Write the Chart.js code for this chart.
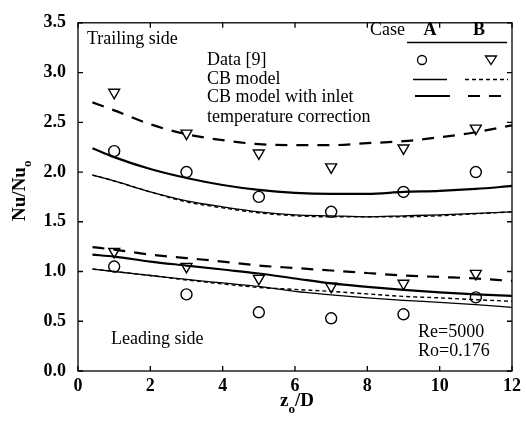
<!DOCTYPE html>
<html>
<head>
<meta charset="utf-8">
<script src="https://cdn.jsdelivr.net/npm/chart.js@4.4.0/dist/chart.umd.min.js"></script>
<style>
  html, body { margin: 0; padding: 0; background: #fff; }
  #wrap { width: 526px; height: 424px; }
</style>
</head>
<body>
<div id="wrap"><canvas id="chart" width="526" height="424"></canvas></div>
<script>
// Données mesurées [9] (symboles)
const dataX = [1, 3, 5, 7, 9, 11];
const trailA = [2.21, 2.00, 1.75, 1.60, 1.80, 2.00];
const trailB = [2.80, 2.39, 2.19, 2.05, 2.24, 2.44];
const leadA = [1.05, 0.77, 0.59, 0.53, 0.57, 0.74];
const leadB = [1.20, 1.05, 0.93, 0.85, 0.88, 0.98];

// Courbes du modèle CB
const curveX = [0.4, 1, 2, 3, 4, 5, 6, 7, 8, 9, 10, 11, 12];
const trailCorrB = [2.70, 2.62, 2.48, 2.38, 2.32, 2.28, 2.27, 2.27, 2.29, 2.31, 2.35, 2.40, 2.47];
const trailCorrA = [2.24, 2.15, 2.03, 1.94, 1.87, 1.82, 1.79, 1.78, 1.78, 1.80, 1.81, 1.83, 1.86];
const trailCbA = [1.97, 1.91, 1.80, 1.71, 1.65, 1.60, 1.57, 1.56, 1.55, 1.56, 1.57, 1.585, 1.60];
const trailCbB = [1.97, 1.91, 1.80, 1.70, 1.64, 1.59, 1.56, 1.55, 1.55, 1.55, 1.56, 1.58, 1.60];
const leadCorrB = [1.245, 1.22, 1.17, 1.135, 1.10, 1.06, 1.035, 1.01, 0.985, 0.96, 0.945, 0.93, 0.905];
const leadCorrA = [1.17, 1.15, 1.10, 1.06, 1.02, 0.98, 0.93, 0.88, 0.845, 0.815, 0.79, 0.77, 0.755];
const leadCbA = [1.025, 1.00, 0.96, 0.92, 0.885, 0.85, 0.80, 0.765, 0.735, 0.71, 0.69, 0.667, 0.64];
const leadCbB = [1.025, 1.00, 0.96, 0.915, 0.875, 0.84, 0.82, 0.80, 0.775, 0.75, 0.735, 0.717, 0.70];

// Axes
const xTicks = [0, 2, 4, 6, 8, 10, 12];
const yTicks = [0, 0.5, 1.0, 1.5, 2.0, 2.5, 3.0, 3.5];

const SERIF = '"Liberation Serif", "DejaVu Serif", serif';
const pts = (xs, ys) => xs.map((x, i) => ({ x, y: ys[i] }));

function curve(ys, width, dash) {
    return {
        data: pts(curveX, ys),
        showLine: true,
        borderColor: '#000',
        borderWidth: width,
        borderDash: dash,
        pointRadius: 0,
        cubicInterpolationMode: 'monotone',
        fill: false
    };
}

function markers(ys, style) {
    return {
        data: pts(dataX, ys),
        showLine: false,
        pointStyle: style,
        pointRotation: style === 'triangle' ? 180 : 0,
        pointRadius: style === 'triangle' ? 6.3 : 5.5,
        pointBorderColor: '#000',
        pointBackgroundColor: 'rgba(0,0,0,0)',
        pointBorderWidth: 1.4
    };
}

// Cadre, graduations intérieures, légende et annotations
const decorPlugin = {
    id: 'decor',
    afterDraw(chart) {
        const { ctx, chartArea: a, scales: { x, y } } = chart;
        ctx.save();
        ctx.strokeStyle = '#000';
        ctx.lineWidth = 1.3;
        ctx.strokeRect(a.left, a.top, a.right - a.left, a.bottom - a.top);
        ctx.beginPath();
        xTicks.forEach(v => {
            const px = x.getPixelForValue(v);
            ctx.moveTo(px, a.bottom); ctx.lineTo(px, a.bottom - 5);
            ctx.moveTo(px, a.top); ctx.lineTo(px, a.top + 5);
        });
        yTicks.forEach(v => {
            const py = y.getPixelForValue(v);
            ctx.moveTo(a.left, py); ctx.lineTo(a.left + 5, py);
            ctx.moveTo(a.right, py); ctx.lineTo(a.right - 5, py);
        });
        ctx.stroke();

        ctx.fillStyle = '#000';
        ctx.textBaseline = 'alphabetic';
        ctx.font = '18px ' + SERIF;
        ctx.textAlign = 'left';
        ctx.fillText('Trailing side', 87, 44);
        ctx.fillText('Data [9]', 207, 65);
        ctx.fillText('CB model', 207, 84);
        ctx.fillText('CB model with inlet', 207, 102);
        ctx.fillText('temperature correction', 207, 122);
        ctx.fillText('Leading side', 111, 344);
        ctx.fillText('Re=5000', 418, 337);
        ctx.fillText('Ro=0.176', 418, 356);
        ctx.textAlign = 'right';
        ctx.fillText('Case', 405, 35);
        ctx.font = 'bold 18px ' + SERIF;
        ctx.textAlign = 'center';
        ctx.fillText('A', 430, 35);
        ctx.fillText('B', 479, 35);

        // légende : traits et symboles
        ctx.lineWidth = 1.3;
        ctx.beginPath(); ctx.moveTo(407, 42.5); ctx.lineTo(507, 42.5); ctx.stroke();
        ctx.beginPath(); ctx.arc(422, 60, 4.5, 0, Math.PI * 2); ctx.stroke();
        ctx.beginPath();
        ctx.moveTo(485.5, 56); ctx.lineTo(496.5, 56); ctx.lineTo(491, 64.5); ctx.closePath();
        ctx.stroke();
        ctx.beginPath(); ctx.moveTo(413, 79.5); ctx.lineTo(447, 79.5); ctx.stroke();
        ctx.setLineDash([4, 3]);
        ctx.beginPath(); ctx.moveTo(465, 79.5); ctx.lineTo(508, 79.5); ctx.stroke();
        ctx.setLineDash([]);
        ctx.lineWidth = 2.2;
        ctx.beginPath(); ctx.moveTo(415, 96); ctx.lineTo(450, 96); ctx.stroke();
        ctx.setLineDash([12, 9]);
        ctx.beginPath(); ctx.moveTo(468, 96); ctx.lineTo(502, 96); ctx.stroke();
        ctx.setLineDash([]);

        // titres des axes avec indice
        ctx.font = 'bold 19px ' + SERIF;
        ctx.textAlign = 'left';
        const xt = 'z', xr = '/D';
        const w1 = ctx.measureText(xt).width;
        ctx.font = 'bold 13px ' + SERIF;
        const ws = ctx.measureText('o').width;
        ctx.font = 'bold 19px ' + SERIF;
        const w2 = ctx.measureText(xr).width;
        let sx = (a.left + a.right) / 2 - (w1 + ws + w2) / 2 + 2;
        ctx.fillText(xt, sx, 406);
        ctx.font = 'bold 13px ' + SERIF;
        ctx.fillText('o', sx + w1, 413);
        ctx.font = 'bold 19px ' + SERIF;
        ctx.fillText(xr, sx + w1 + ws, 406);

        ctx.translate(25, 190);
        ctx.rotate(-Math.PI / 2);
        const t1 = 'Nu/Nu';
        const tw = ctx.measureText(t1).width;
        ctx.fillText(t1, -tw / 2 - 4, 0);
        ctx.font = 'bold 13px ' + SERIF;
        ctx.fillText('o', tw / 2 - 4, 6);
        ctx.restore();
    }
};

new Chart(document.getElementById('chart'), {
    type: 'scatter',
    data: {
        datasets: [
            curve(trailCorrB, 2.2, [12, 9]),
            curve(trailCorrA, 2.2, []),
            curve(trailCbA, 1.3, []),
            curve(trailCbB, 1.4, [4, 3]),
            curve(leadCorrB, 2.2, [12, 9]),
            curve(leadCorrA, 2.2, []),
            curve(leadCbA, 1.3, []),
            curve(leadCbB, 1.4, [4, 3]),
            markers(trailA, 'circle'),
            markers(leadA, 'circle'),
            markers(trailB, 'triangle'),
            markers(leadB, 'triangle')
        ]
    },
    options: {
        responsive: false,
        animation: false,
        layout: { padding: { top: 17, right: 13, left: 0, bottom: 0 } },
        plugins: { legend: { display: false }, tooltip: { enabled: false } },
        scales: {
            x: {
                type: 'linear', min: 0, max: 12,
                afterFit: s => { s.height = 53; },
                afterBuildTicks: s => { s.ticks = xTicks.map(v => ({ value: v })); },
                grid: { display: false, drawTicks: false },
                border: { display: false },
                ticks: { padding: 5, color: '#000', font: { family: SERIF, size: 18, weight: 'bold' } }
            },
            y: {
                type: 'linear', min: 0, max: 3.5,
                afterFit: s => { s.width = 78; },
                afterBuildTicks: s => { s.ticks = yTicks.map(v => ({ value: v })); },
                grid: { display: false, drawTicks: false },
                border: { display: false },
                ticks: {
                    padding: 12, color: '#000',
                    font: { family: SERIF, size: 18, weight: 'bold' },
                    callback: v => v.toFixed(1)
                }
            }
        }
    },
    plugins: [decorPlugin]
});
</script>
</body>
</html>
